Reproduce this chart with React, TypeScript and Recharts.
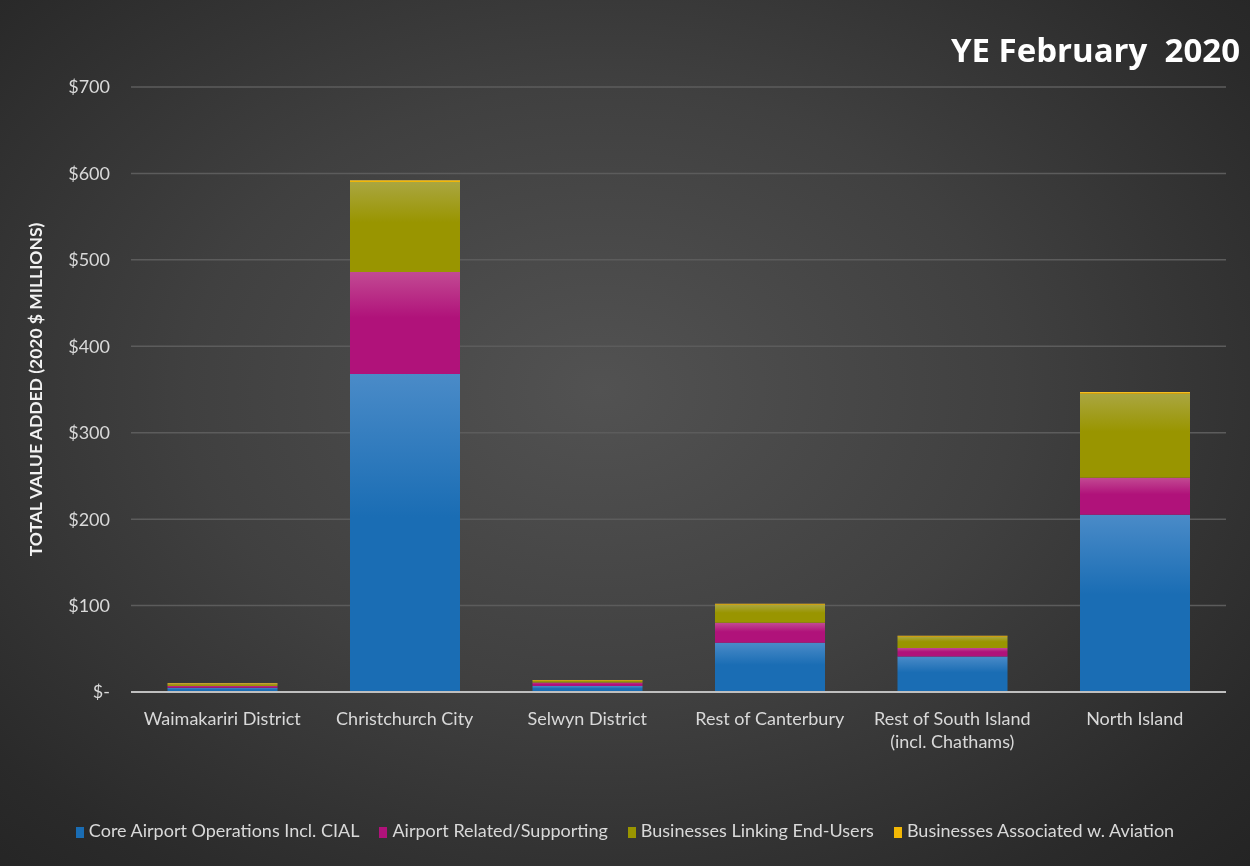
import React from "react"
import { BarChart, Bar, XAxis, YAxis, CartesianGrid } from "recharts"

// values, $ millions (2020)
const regions = [
  "Waimakariri District",
  "Christchurch City",
  "Selwyn District",
  "Rest of Canterbury",
  "Rest of South Island\n(incl. Chathams)",
  "North Island",
]
const coreOps = [5, 368, 7, 57, 41, 205]
const relatedSupporting = [2, 118, 4, 23, 10, 43]
const linkingEndUsers = [2, 104, 2, 21, 13, 97]
const associatedAviation = [1, 2, 1, 1, 1, 2]
const yTicks = [0, 100, 200, 300, 400, 500, 600, 700]

const series = [
  { key: "core", name: "Core Airport Operations Incl. CIAL", color: "#1a6db4", top: "#4a8bc8" },
  { key: "related", name: "Airport Related/Supporting", color: "#b0127a", top: "#c24a93" },
  { key: "linking", name: "Businesses Linking End-Users", color: "#999500", top: "#aaa640" },
  { key: "assoc", name: "Businesses Associated w. Aviation", color: "#f2b705", top: "#f5c842" },
]

const data = regions.map((region, i) => ({
  region,
  core: coreOps[i],
  related: relatedSupporting[i],
  linking: linkingEndUsers[i],
  assoc: associatedAviation[i],
}))

const FONT = "Lato, 'Open Sans', sans-serif"

const XTick = (props: any) => {
  const { x, y, payload } = props
  const lines = String(payload.value).split("\n")
  return (
    <text x={x} y={y + 25} textAnchor="middle" fill="#d9d9d9" fontSize={18} fontFamily={FONT}>
      {lines.map((l, i) => (
        <tspan key={i} x={x} dy={i === 0 ? 0 : 23}>
          {l}
        </tspan>
      ))}
    </text>
  )
}

export default function App() {
  return (
    <div
      style={{
        position: "fixed",
        left: 0,
        top: 0,
        width: 1250,
        height: 866,
        background: "radial-gradient(ellipse at 48% 45%, #525252 0%, #404040 45%, #2a2a2a 85%, #242424 100%)",
      }}
    >
      <BarChart
        width={1250}
        height={866}
        data={data}
        margin={{ top: 87, right: 24, bottom: 144, left: 0 }}
        barCategoryGap="20%"
      >
        <defs>
          {series.map((s) => (
            <linearGradient key={s.key} id={`grad-${s.key}`} x1="0" y1="0" x2="0" y2="1">
              <stop offset="0%" stopColor={s.top} />
              <stop offset="45%" stopColor={s.color} />
              <stop offset="100%" stopColor={s.color} />
            </linearGradient>
          ))}
        </defs>
        <CartesianGrid vertical={false} stroke="#5c5c5c" strokeWidth={1.5} />
        <XAxis
          dataKey="region"
          height={30}
          axisLine={{ stroke: "#bfbfbf", strokeWidth: 2 }}
          tickLine={false}
          interval={0}
          tick={<XTick />}
        />
        <YAxis
          width={131}
          domain={[0, 700]}
          ticks={yTicks}
          axisLine={false}
          tickLine={false}
          tickMargin={15}
          tick={{ fill: "#d9d9d9", fontSize: 18, fontFamily: FONT }}
          tickFormatter={(v: number) => (v === 0 ? "$-" : `$${v}`)}
          label={{
            value: "TOTAL VALUE ADDED (2020 $ MILLIONS)",
            angle: -90,
            position: "insideLeft",
            offset: 0,
            dx: 36,
            fill: "#f2f2f2",
            fontSize: 17.5,
            fontWeight: 700,
            fontFamily: FONT,
            style: { textAnchor: "middle" },
          }}
        />
        {series.map((s) => (
          <Bar
            key={s.key}
            dataKey={s.key}
            name={s.name}
            stackId="a"
            fill={`url(#grad-${s.key})`}
            isAnimationActive={false}
          />
        ))}
        <text
          x={1240}
          y={62}
          textAnchor="end"
          fill="#ffffff"
          fontSize={33}
          fontWeight={700}
          fontFamily="'Open Sans', sans-serif"
          style={{ whiteSpace: "pre" }}
        >
          YE February  2020
        </text>
      </BarChart>
      <div
        style={{
          position: "absolute",
          left: 0,
          top: 819,
          width: 1250,
          display: "flex",
          justifyContent: "center",
          gap: 20,
          fontFamily: FONT,
          fontSize: 18,
          color: "#d9d9d9",
          whiteSpace: "nowrap",
        }}
      >
        {series.map((s) => (
          <span key={s.key} style={{ display: "flex", alignItems: "center" }}>
            <span style={{ width: 8, height: 11, background: s.color, marginRight: 5, marginTop: 5 }} />
            {s.name}
          </span>
        ))}
      </div>
    </div>
  )
}
